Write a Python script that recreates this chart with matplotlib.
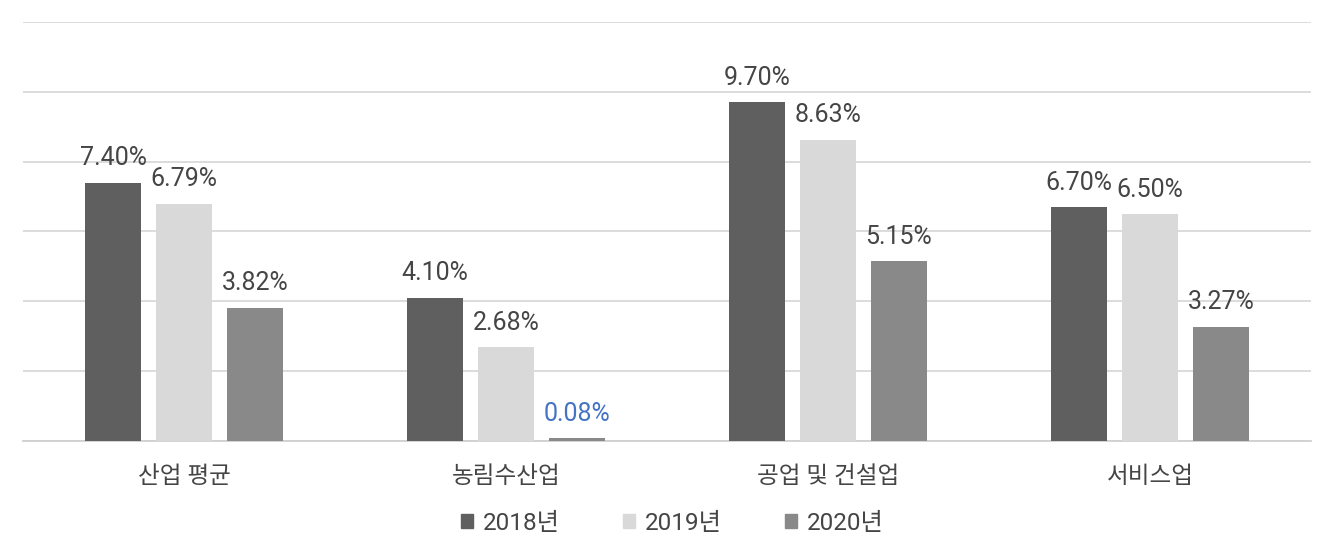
import numpy as np
import matplotlib
matplotlib.use("Agg")
from matplotlib import pyplot as plt
from matplotlib.patches import Patch

plt.rcParams['font.family'] = ['Roboto', 'Noto Sans CJK KR', 'DejaVu Sans']

categories = ['산업 평균', '농림수산업', '공업 및 건설업', '서비스업']
years = ['2018년', '2019년', '2020년']
v2018 = [7.40, 4.10, 9.70, 6.70]
v2019 = [6.79, 2.68, 8.63, 6.50]
v2020 = [3.82, 0.08, 5.15, 3.27]

series = [v2018, v2019, v2020]
colors = ['#5f5f5f', '#d9d9d9', '#898989']
text_col = '#454545'

fig = plt.figure(figsize=(13.34, 5.58), dpi=100)
ax = fig.add_axes([0.01724, 0.2097, 0.9655, 0.7509])

x = np.arange(len(categories))
w = 0.174
step = 0.22
for i, vals in enumerate(series):
	pos = x + (i - 1) * step
	ax.bar(pos, vals, width=w, color=colors[i], zorder=3, label=years[i])
	for px, v in zip(pos, vals):
		c = '#4472c4' if v < 0.5 else text_col
		ax.annotate('%.2f%%' % v, (px, v), xytext=(0, 9), textcoords='offset points',
			ha='center', va='bottom', fontsize=18, color=c)

ax.set_xlim(-0.5, len(categories) - 0.5)
ax.set_ylim(0, 12)
ax.set_yticks(np.arange(0, 13, 2))
ax.yaxis.grid(True, color='#d9d9d9', linewidth=1.3, zorder=0)
ax.tick_params(axis='y', left=False, labelleft=False)
ax.tick_params(axis='x', bottom=False, pad=14)
ax.set_xticks(x)
ax.set_xticklabels(categories, fontsize=17, color=text_col)
for s in ['top', 'right', 'left']:
	ax.spines[s].set_visible(False)
ax.spines['bottom'].set_color('#d0d0d0')
ax.spines['bottom'].set_linewidth(1.3)

handles = [Patch(color=c) for c in colors]
fig.legend(handles, years, loc='center', bbox_to_anchor=(0.504, 0.062), ncol=3,
	frameon=False, fontsize=17.5, handlelength=0.5, handleheight=0.5,
	handletextpad=0.4, columnspacing=2.6, labelcolor=text_col)

plt.savefig('out.png', dpi=100)
